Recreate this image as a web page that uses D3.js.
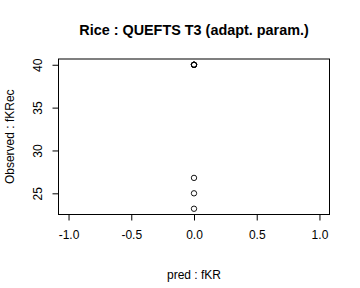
<html>
<head>
<meta charset="utf-8">
<style>
  body { margin: 0; background: #fff; font-family: "Liberation Sans", Arial, Helvetica, sans-serif; }
</style>
</head>
<body>
<div id="chart-holder"></div>
<script src="https://d3js.org/d3.v7.min.js"></script>
<script>
// data
var predValues = [0, 0, 0, 0, 0, 0, 0];
var observedValues = [40, 40, 40, 40, 26.8, 25.0, 23.2];
var xTicks = [-1.0, -0.5, 0.0, 0.5, 1.0];
var yTicks = [25, 30, 35, 40];
var titleText = 'Rice : QUEFTS T3 (adapt. param.)';
var xLabel = 'pred : fKR';
var yLabel = 'Observed : fKRec';

var width = 360;
var height = 288;
var margin = {top: 59, right: 30.5, bottom: 73.5, left: 58.5};
var innerWidth = width - margin.left - margin.right;
var innerHeight = height - margin.top - margin.bottom;

var svg = d3.select('#chart-holder')
            .append('svg')
            .attr('width', width)
            .attr('height', height);

var g = svg.append('g')
           .attr('transform', 'translate(' + margin.left + ',' + margin.top + ')');

// R style 4% padding
var yMin = d3.min(observedValues), yMax = d3.max(observedValues);
var yPad = (yMax - yMin) * 0.04;

var x = d3.scaleLinear().domain([-1.08, 1.08]).range([0, innerWidth]);
var y = d3.scaleLinear().domain([yMin - yPad, yMax + yPad]).range([innerHeight, 0]);

// axes (plain hyphen for minus, like R)
var xAxis = d3.axisBottom(x)
              .tickValues(xTicks)
              .tickFormat(function(d) { return d.toFixed(1); })
              .tickSize(6)
              .tickPadding(6);
var gx = g.append('g')
          .attr('transform', 'translate(0,' + innerHeight + ')')
          .call(xAxis);
gx.select('.domain').remove();
gx.selectAll('text')
  .attr('font-size', 12)
  .attr('font-family', '"Liberation Sans", Arial, sans-serif')
  .attr('fill', '#000')
  .attr('dy', '1em');

var yAxis = d3.axisLeft(y).tickValues(yTicks).tickSize(6).tickPadding(6);
var gy = g.append('g').call(yAxis);
gy.select('.domain').remove();
gy.selectAll('text')
  .attr('font-size', 12)
  .attr('font-family', '"Liberation Sans", Arial, sans-serif')
  .attr('fill', '#000')
  .attr('text-anchor', 'middle')
  .attr('x', null)
  .attr('dy', null)
  .attr('transform', 'translate(-17,0) rotate(-90)');

// box
g.append('rect')
 .attr('x', 0).attr('y', 0)
 .attr('width', innerWidth).attr('height', innerHeight)
 .attr('fill', 'none').attr('stroke', '#000').attr('stroke-width', 1);

// points
g.selectAll('.pt')
 .data(observedValues)
 .enter()
 .append('circle')
 .attr('class', 'pt')
 .attr('cx', function(d, i) { return x(predValues[i]); })
 .attr('cy', function(d) { return y(d); })
 .attr('r', 2.7)
 .attr('fill', 'none')
 .attr('stroke', '#000')
 .attr('stroke-width', 0.9);

// title
svg.append('text')
   .attr('x', margin.left + innerWidth / 2)
   .attr('y', 35)
   .attr('text-anchor', 'middle')
   .attr('font-weight', 'bold')
   .attr('font-size', 14.4)
   .text(titleText);

// axis labels
svg.append('text')
   .attr('x', margin.left + innerWidth / 2)
   .attr('y', 279)
   .attr('text-anchor', 'middle')
   .attr('font-size', 12)
   .text(xLabel);

svg.append('text')
   .attr('transform', 'translate(14,' + (margin.top + innerHeight / 2) + ') rotate(-90)')
   .attr('text-anchor', 'middle')
   .attr('font-size', 12)
   .text(yLabel);
</script>
</body>
</html>
